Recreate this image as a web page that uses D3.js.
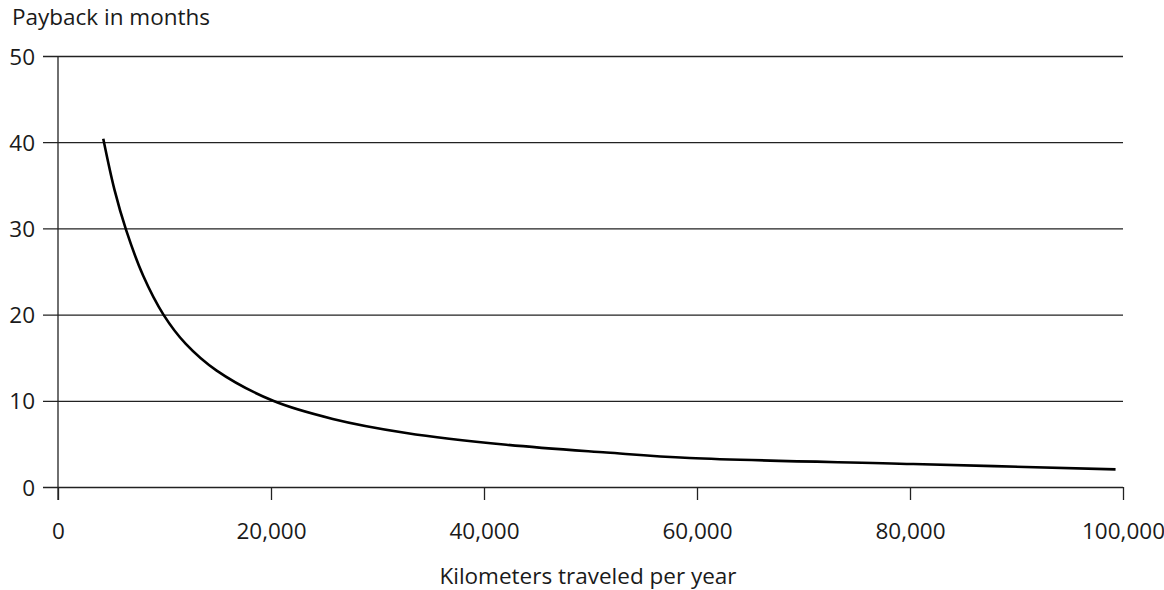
<!DOCTYPE html>
<html>
<head>
<meta charset="utf-8">
<script src="https://cdn.jsdelivr.net/npm/d3@7/dist/d3.min.js"></script>
<style>
  html, body { margin: 0; padding: 0; background: #fff; }
  svg { display: block; }
  text { font-family: "Open Sans", "Noto Sans", sans-serif; fill: #1a1a1a; }
</style>
</head>
<body>
<svg id="chart" width="1164" height="590"></svg>
<script>
// Data
const kilometers = [4250, 5300, 6400, 8000, 9900, 12000, 14900, 20200, 25800, 32700, 42100, 51500, 59300, 80300, 99300];
const paybackMonths = [40.4, 34.5, 29.8, 24.5, 20.0, 16.6, 13.5, 10.0, 7.9, 6.27, 4.9, 4.0, 3.37, 2.67, 2.05];
const xTicks = [0, 20000, 40000, 60000, 80000, 100000];
const yTicks = [0, 10, 20, 30, 40, 50];
const yTitle = "Payback in months";
const xTitle = "Kilometers traveled per year";

(function () {
const svg = d3.select("#chart");
const mLeft = 58, mRight = 1123, mTop = 56, mBottom = 487;

const x = d3.scaleLinear().domain([0, 100000]).range([mLeft, mRight]);
const y = d3.scaleLinear().domain([0, 50]).range([mBottom, mTop]);

const fmt = d3.format(",");
const fontSize = 22.5;

// Horizontal gridlines with left tick extensions
const yAxis = d3.axisLeft(y).tickValues(yTicks).tickSize(0).tickPadding(0).tickFormat(d => d);
const gy = svg.append("g").attr("transform", `translate(${mLeft},0)`).call(yAxis);
gy.select(".domain").remove();
gy.selectAll(".tick line").remove();
gy.selectAll(".tick").append("line")
  .attr("x1", -15).attr("x2", mRight - mLeft)
  .attr("stroke", "#222").attr("stroke-width", 1.3);
gy.selectAll(".tick text")
  .attr("x", -23).attr("dy", "0.36em")
  .style("font-size", fontSize + "px").attr("fill", "#1a1a1a");

// X axis ticks (downward)
const xAxis = d3.axisBottom(x).tickValues(xTicks).tickSize(13).tickPadding(0).tickFormat(d => fmt(d));
const gx = svg.append("g").attr("transform", `translate(0,${mBottom})`).call(xAxis);
gx.select(".domain").remove();
gx.selectAll(".tick line").attr("stroke", "#222").attr("stroke-width", 1.3);
gx.selectAll(".tick text")
  .attr("y", 52).attr("dy", 0)
  .style("font-size", fontSize + "px").attr("fill", "#1a1a1a");

// Vertical y axis line
svg.append("line")
  .attr("x1", mLeft).attr("x2", mLeft)
  .attr("y1", y(50)).attr("y2", mBottom + 13)
  .attr("stroke", "#222").attr("stroke-width", 1.3);

// Curve
const pts = kilometers.map((k, i) => [k, paybackMonths[i]]);
const line = d3.line().x(d => x(d[0])).y(d => y(d[1])).curve(d3.curveCatmullRom.alpha(0.5));
svg.append("path")
  .attr("d", line(pts))
  .attr("fill", "none")
  .attr("stroke", "#000")
  .attr("stroke-width", 2.6);

// Titles
svg.append("text").attr("x", 12).attr("y", 25)
  .style("font-size", fontSize + "px").text(yTitle);
svg.append("text").attr("x", 588).attr("y", 584)
  .attr("text-anchor", "middle")
  .style("font-size", fontSize + "px").text(xTitle);
})();
</script>
</body>
</html>
